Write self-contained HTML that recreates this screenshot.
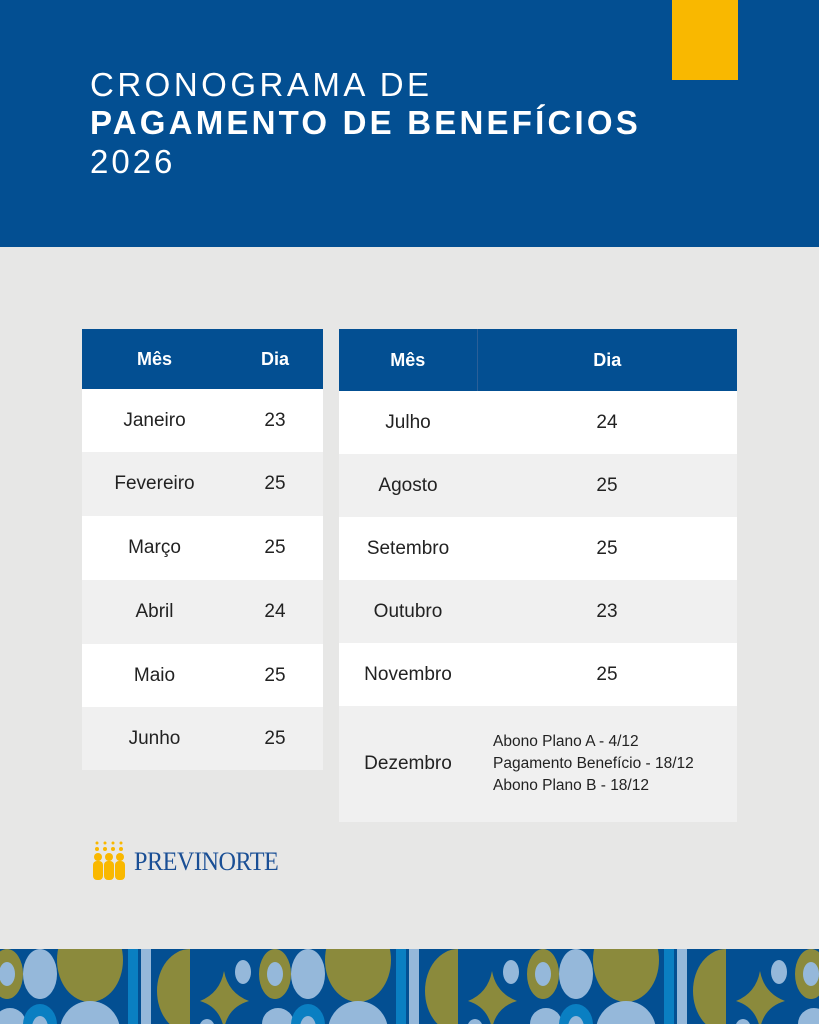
<!DOCTYPE html>
<html><head><meta charset="utf-8"><style>
*{margin:0;padding:0;box-sizing:border-box}
body{width:819px;height:1024px;position:relative;overflow:hidden;background:#e7e7e6;font-family:"Liberation Sans",sans-serif}
.hdr{position:absolute;left:0;top:0;width:819px;height:247px;background:#034f92}
.ybox{position:absolute;left:672px;top:0;width:66px;height:80px;background:#f9b800}
.t{position:absolute;left:90px;color:#fff;font-size:33px;white-space:nowrap}
table{position:absolute;border-collapse:collapse;font-size:19px;color:#222}
td,th{text-align:center;padding:0}
th{background:#034f92;color:#fff;font-weight:bold;font-size:18px}
tr.w td{background:#fff}
tr.g td{background:#f0f0f0}
.logo{position:absolute;left:134px;top:847px;color:#1a4f95;font-family:"Liberation Serif",serif;font-size:26px;letter-spacing:-0.5px;transform:scaleX(0.93);transform-origin:left}
</style></head><body>
<div class="hdr"></div>
<div class="ybox"></div>
<div class="t" style="top:66px;letter-spacing:3.5px">CRONOGRAMA DE</div>
<div class="t" style="top:104px;font-weight:bold;letter-spacing:3.2px">PAGAMENTO DE BENEFÍCIOS</div>
<div class="t" style="top:143px;letter-spacing:3px">2026</div>

<table style="left:82px;top:329px;width:241px">
<tr style="height:60px"><th style="width:145px">Mês</th><th>Dia</th></tr>
<tr class="w" style="height:63px"><td>Janeiro</td><td>23</td></tr>
<tr class="g" style="height:64px"><td>Fevereiro</td><td>25</td></tr>
<tr class="w" style="height:64px"><td>Março</td><td>25</td></tr>
<tr class="g" style="height:64px"><td>Abril</td><td>24</td></tr>
<tr class="w" style="height:63px"><td>Maio</td><td>25</td></tr>
<tr class="g" style="height:63px"><td>Junho</td><td>25</td></tr>
</table>

<table style="left:339px;top:329px;width:398px">
<tr style="height:62px"><th style="width:138px;border-right:1px solid #2a5f98">Mês</th><th>Dia</th></tr>
<tr class="w" style="height:63px"><td>Julho</td><td>24</td></tr>
<tr class="g" style="height:63px"><td>Agosto</td><td>25</td></tr>
<tr class="w" style="height:63px"><td>Setembro</td><td>25</td></tr>
<tr class="g" style="height:63px"><td>Outubro</td><td>23</td></tr>
<tr class="w" style="height:63px"><td>Novembro</td><td>25</td></tr>
<tr class="g" style="height:116px"><td>Dezembro</td><td style="text-align:left;padding-left:16px;font-size:15.5px;line-height:22px">Abono Plano A - 4/12<br>Pagamento Benefício - 18/12<br>Abono Plano B - 18/12</td></tr>
</table>

<svg style="position:absolute;left:92px;top:840px" width="40" height="42">
<g fill="#f9b800">
<circle cx="5" cy="3" r="1.5"/><circle cx="13" cy="3" r="1.5"/><circle cx="21" cy="3" r="1.5"/><circle cx="29" cy="3" r="1.5"/>
<circle cx="5" cy="9" r="2"/><circle cx="13" cy="9" r="2"/><circle cx="21" cy="9" r="2"/><circle cx="29" cy="9" r="2"/>
<circle cx="6" cy="17" r="4"/><circle cx="17" cy="17" r="4"/><circle cx="28" cy="17" r="4"/>
<rect x="1" y="21" width="10" height="19" rx="4"/><rect x="12" y="21" width="10" height="19" rx="4"/><rect x="23" y="21" width="10" height="19" rx="4"/>
</g></svg>
<div class="logo">PREVINORTE</div>

<svg style="position:absolute;left:0;top:949px" width="819" height="75">
<rect width="819" height="75" fill="#034f92"/>
<defs><g id="p">
<ellipse cx="7" cy="25" rx="16" ry="25" fill="#8b8a3c"/><ellipse cx="7" cy="25" rx="8" ry="12" fill="#95b8da"/>
<ellipse cx="40" cy="25" rx="17" ry="25" fill="#95b8da"/>
<ellipse cx="90" cy="11" rx="33" ry="42" fill="#8b8a3c"/>
<ellipse cx="10" cy="75" rx="16" ry="16" fill="#95b8da"/>
<ellipse cx="40" cy="76" rx="17" ry="21" fill="#0a7fc2"/><ellipse cx="40" cy="79" rx="8" ry="12" fill="#95b8da"/>
<ellipse cx="90" cy="82" rx="30" ry="30" fill="#95b8da"/>
<rect x="128" y="0" width="10" height="75" fill="#0a7fc2"/><rect x="141" y="0" width="10" height="75" fill="#95b8da"/>
<path d="M190 0 A33 42 0 0 0 190 84 Z" fill="#8b8a3c"/>
<path d="M224 22 Q228 44 249 52 Q228 58 224 80 Q220 58 200 52 Q220 44 224 22Z" fill="#8b8a3c"/>
<ellipse cx="243" cy="23" rx="8" ry="12" fill="#95b8da"/>
<ellipse cx="207" cy="80" rx="8" ry="10" fill="#95b8da"/>
</g></defs>
<use href="#p" x="-268"/><use href="#p" x="0"/><use href="#p" x="268"/><use href="#p" x="536"/><use href="#p" x="804"/>
</svg>
</body></html>
